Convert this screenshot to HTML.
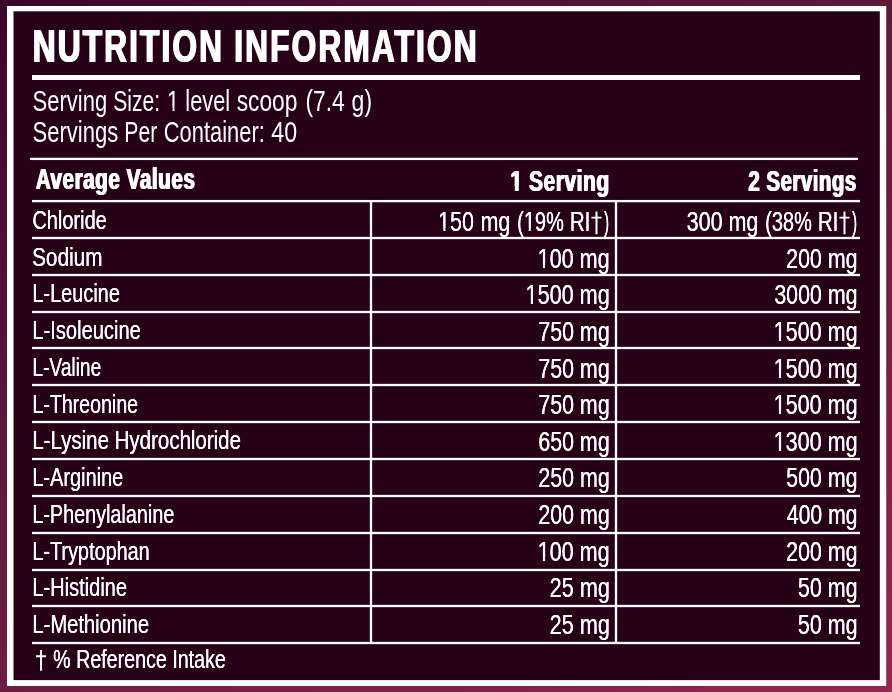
<!DOCTYPE html><html><head><meta charset="utf-8"><title>Nutrition Information</title><style>
html,body{margin:0;padding:0;background:#5a1641;}body{width:892px;height:692px;overflow:hidden;font-family:"Liberation Sans",sans-serif;}svg{display:block;will-change:transform}text{font-family:"Liberation Sans",sans-serif;fill:#ffffff}
</style></head><body>
<svg width="892" height="692" viewBox="0 0 892 692">
<defs><linearGradient id="g" gradientUnits="userSpaceOnUse" x1="0" y1="0" x2="495.2" y2="973.6"><stop offset="0" stop-color="#3b052b"/><stop offset="0.37" stop-color="#5d1a3b"/><stop offset="0.565" stop-color="#6f1c42"/><stop offset="0.935" stop-color="#972650"/><stop offset="1" stop-color="#9e2852"/></linearGradient></defs>
<rect width="892" height="692" fill="url(#g)"/>
<rect x="7" y="6" width="879.2" height="680" fill="#fff"/>
<rect x="13.5" y="11.3" width="866.3" height="668.8" fill="#260118"/>
<rect x="32" y="75" width="828" height="5" fill="#ffffff"/>
<rect x="30" y="157.75" width="828" height="2.3" fill="#ffffff"/>
<rect x="32" y="199.95" width="828" height="2.3" fill="#ffffff"/>
<rect x="32" y="236.85" width="828" height="2.3" fill="#ffffff"/>
<rect x="32" y="273.85" width="828" height="2.3" fill="#ffffff"/>
<rect x="32" y="310.85" width="828" height="2.3" fill="#ffffff"/>
<rect x="32" y="346.85" width="828" height="2.3" fill="#ffffff"/>
<rect x="32" y="383.85" width="828" height="2.3" fill="#ffffff"/>
<rect x="32" y="420.85" width="828" height="2.3" fill="#ffffff"/>
<rect x="32" y="457.85" width="828" height="2.3" fill="#ffffff"/>
<rect x="32" y="494.85" width="828" height="2.3" fill="#ffffff"/>
<rect x="32" y="531.85" width="828" height="2.3" fill="#ffffff"/>
<rect x="32" y="568.85" width="828" height="2.3" fill="#ffffff"/>
<rect x="32" y="604.85" width="828" height="2.3" fill="#ffffff"/>
<rect x="32" y="641.85" width="828" height="2.3" fill="#ffffff"/>
<rect x="369.85" y="201.10" width="2.3" height="441.90" fill="#ffffff"/>
<rect x="614.85" y="201.10" width="2.3" height="441.90" fill="#ffffff"/>
<path fill="#fff" d="M40.05 650.10h2.0V670.70h-2.0zM36.00 655.20h10.1v2.0h-10.1z"/>
<path fill="#fff" d="M595.50 211.60h2.0V234.30h-2.0zM591.45 216.65h10.1v1.9h-10.1z"/>
<path fill="#fff" d="M843.50 211.60h2.0V234.30h-2.0zM839.45 216.65h10.1v1.9h-10.1z"/>
<g transform="translate(32.73,61.80) scale(0.6922,1)" font-weight="bold" font-size="45.8" letter-spacing="3.034">
<text x="-1.011" xml:space="preserve">NUTRITION</text>
<text xml:space="preserve">NUTRITION</text>
<text x="1.011" xml:space="preserve">NUTRITION</text>
</g>
<g transform="translate(234.23,61.80) scale(0.6928,1)" font-weight="bold" font-size="45.8" letter-spacing="3.031">
<text x="-1.010" xml:space="preserve">INFORMATION</text>
<text xml:space="preserve">INFORMATION</text>
<text x="1.010" xml:space="preserve">INFORMATION</text>
</g>
<g transform="translate(32.46,111.10) scale(0.7545,1)" font-weight="normal" font-size="29.2">
<text xml:space="preserve">Serving</text>
</g>
<g transform="translate(113.26,111.10) scale(0.7221,1)" font-weight="normal" font-size="29.2">
<text xml:space="preserve">Size:</text>
</g>
<g transform="translate(167.10,111.10) scale(0.7476,1)" font-weight="normal" font-size="29.2">
<text xml:space="preserve">1 level</text>
<rect x="0.485" y="-3.181" width="6.857" height="4.281" fill="#260118"/>
<rect x="9.923" y="-3.181" width="6.629" height="4.281" fill="#260118"/>
</g>
<g transform="translate(236.65,111.10) scale(0.7806,1)" font-weight="normal" font-size="29.2">
<text xml:space="preserve">scoop</text>
</g>
<g transform="translate(305.44,111.10) scale(0.7826,1)" font-weight="normal" font-size="29.2">
<text xml:space="preserve">(7.4</text>
</g>
<g transform="translate(351.61,111.10) scale(0.7890,1)" font-weight="normal" font-size="29.2">
<text xml:space="preserve">g)</text>
</g>
<g transform="translate(32.46,142.10) scale(0.7557,1)" font-weight="normal" font-size="29.2">
<text xml:space="preserve">Servings</text>
</g>
<g transform="translate(124.27,142.10) scale(0.7261,1)" font-weight="normal" font-size="29.2">
<text xml:space="preserve">Per</text>
</g>
<g transform="translate(163.80,142.10) scale(0.7497,1)" font-weight="normal" font-size="29.2">
<text xml:space="preserve">Container:</text>
</g>
<g transform="translate(271.30,142.10) scale(0.7942,1)" font-weight="normal" font-size="29.2">
<text xml:space="preserve">40</text>
</g>
<g transform="translate(35.73,189.20) scale(0.7113,1)" font-weight="bold" font-size="29.2" letter-spacing="0.703">
<text x="-0.843" xml:space="preserve">Average Values</text>
<text xml:space="preserve">Average Values</text>
<text x="0.843" xml:space="preserve">Average Values</text>
</g>
<g transform="translate(510.43,190.60) scale(0.7188,1)" font-weight="bold" font-size="29.3" letter-spacing="0.696">
<text x="-0.835" xml:space="preserve">1 Serving</text>
<text xml:space="preserve">1 Serving</text>
<text x="0.835" xml:space="preserve">1 Serving</text>
<rect x="-0.798" y="-3.990" width="6.802" height="5.090" fill="#260118"/>
<rect x="11.693" y="-3.990" width="6.430" height="5.090" fill="#260118"/>
</g>
<g transform="translate(748.42,190.60) scale(0.6973,1)" font-weight="bold" font-size="29.3" letter-spacing="0.717">
<text x="-0.860" xml:space="preserve">2 Servings</text>
<text xml:space="preserve">2 Servings</text>
<text x="0.860" xml:space="preserve">2 Servings</text>
</g>
<g transform="translate(53.11,668.10) scale(0.7717,1)" font-weight="normal" font-size="25.5">
<text x="-0.156" xml:space="preserve">% Reference Intake</text>
<text x="0.156" xml:space="preserve">% Reference Intake</text>
</g>
<g transform="translate(32.30,228.85) scale(0.7528,1)" font-weight="normal" font-size="26.6">
<text x="-0.159" xml:space="preserve">Chloride</text>
<text x="0.159" xml:space="preserve">Chloride</text>
</g>
<g transform="translate(437.99,231.00) scale(0.7854,1)" font-weight="normal" font-size="27.5">
<text x="-0.153" xml:space="preserve">150</text>
<text x="0.153" xml:space="preserve">150</text>
<rect x="0.287" y="-3.054" width="6.476" height="4.154" fill="#260118"/>
<rect x="9.498" y="-3.054" width="6.261" height="4.154" fill="#260118"/>
</g>
<g transform="translate(480.64,231.00) scale(0.7762,1)" font-weight="normal" font-size="27.5">
<text x="-0.155" xml:space="preserve">mg</text>
<text x="0.155" xml:space="preserve">mg</text>
</g>
<g transform="translate(517.11,231.00) scale(0.7285,1)" font-weight="normal" font-size="27.5">
<text x="-0.165" xml:space="preserve">(19%</text>
<text x="0.165" xml:space="preserve">(19%</text>
<rect x="9.302" y="-3.054" width="6.605" height="4.154" fill="#260118"/>
<rect x="18.667" y="-3.054" width="6.390" height="4.154" fill="#260118"/>
</g>
<g transform="translate(569.83,231.00) scale(0.7494,1)" font-weight="normal" font-size="27.5">
<text x="-0.160" xml:space="preserve">RI</text>
<text x="0.160" xml:space="preserve">RI</text>
</g>
<g transform="translate(604.05,231.00) scale(0.5450,1)" font-weight="normal" font-size="27.5">
<text x="-0.220" xml:space="preserve">)</text>
<text x="0.220" xml:space="preserve">)</text>
</g>
<g transform="translate(686.67,231.00) scale(0.7826,1)" font-weight="normal" font-size="27.5">
<text x="-0.153" xml:space="preserve">300</text>
<text x="0.153" xml:space="preserve">300</text>
</g>
<g transform="translate(728.64,231.00) scale(0.7762,1)" font-weight="normal" font-size="27.5">
<text x="-0.155" xml:space="preserve">mg</text>
<text x="0.155" xml:space="preserve">mg</text>
</g>
<g transform="translate(765.11,231.00) scale(0.7285,1)" font-weight="normal" font-size="27.5">
<text x="-0.165" xml:space="preserve">(38%</text>
<text x="0.165" xml:space="preserve">(38%</text>
</g>
<g transform="translate(817.83,231.00) scale(0.7494,1)" font-weight="normal" font-size="27.5">
<text x="-0.160" xml:space="preserve">RI</text>
<text x="0.160" xml:space="preserve">RI</text>
</g>
<g transform="translate(852.05,231.00) scale(0.5450,1)" font-weight="normal" font-size="27.5">
<text x="-0.220" xml:space="preserve">)</text>
<text x="0.220" xml:space="preserve">)</text>
</g>
<g transform="translate(32.13,265.59) scale(0.7807,1)" font-weight="normal" font-size="26.6">
<text x="-0.154" xml:space="preserve">Sodium</text>
<text x="0.154" xml:space="preserve">Sodium</text>
</g>
<g transform="translate(537.59,267.63) scale(0.7869,1)" font-weight="normal" font-size="27.5">
<text x="-0.152" xml:space="preserve">100 mg</text>
<text x="0.152" xml:space="preserve">100 mg</text>
<rect x="0.290" y="-3.054" width="6.473" height="4.154" fill="#260118"/>
<rect x="9.498" y="-3.054" width="6.258" height="4.154" fill="#260118"/>
</g>
<g transform="translate(786.15,267.63) scale(0.7786,1)" font-weight="normal" font-size="27.5">
<text x="-0.154" xml:space="preserve">200 mg</text>
<text x="0.154" xml:space="preserve">200 mg</text>
</g>
<g transform="translate(32.36,302.33) scale(0.7494,1)" font-weight="normal" font-size="26.6">
<text x="-0.160" xml:space="preserve">L-Leucine</text>
<text x="0.160" xml:space="preserve">L-Leucine</text>
</g>
<g transform="translate(525.49,304.26) scale(0.7883,1)" font-weight="normal" font-size="27.5">
<text x="-0.152" xml:space="preserve">1500 mg</text>
<text x="0.152" xml:space="preserve">1500 mg</text>
<rect x="0.293" y="-3.054" width="6.470" height="4.154" fill="#260118"/>
<rect x="9.498" y="-3.054" width="6.255" height="4.154" fill="#260118"/>
</g>
<g transform="translate(774.27,304.26) scale(0.7789,1)" font-weight="normal" font-size="27.5">
<text x="-0.154" xml:space="preserve">3000 mg</text>
<text x="0.154" xml:space="preserve">3000 mg</text>
</g>
<g transform="translate(32.34,339.07) scale(0.7572,1)" font-weight="normal" font-size="26.6">
<text x="-0.158" xml:space="preserve">L-Isoleucine</text>
<text x="0.158" xml:space="preserve">L-Isoleucine</text>
</g>
<g transform="translate(538.34,340.89) scale(0.7787,1)" font-weight="normal" font-size="27.5">
<text x="-0.154" xml:space="preserve">750 mg</text>
<text x="0.154" xml:space="preserve">750 mg</text>
</g>
<g transform="translate(773.59,340.89) scale(0.7854,1)" font-weight="normal" font-size="27.5">
<text x="-0.153" xml:space="preserve">1500 mg</text>
<text x="0.153" xml:space="preserve">1500 mg</text>
<rect x="0.287" y="-3.054" width="6.476" height="4.154" fill="#260118"/>
<rect x="9.498" y="-3.054" width="6.261" height="4.154" fill="#260118"/>
</g>
<g transform="translate(32.43,375.81) scale(0.7191,1)" font-weight="normal" font-size="26.6">
<text x="-0.167" xml:space="preserve">L-Valine</text>
<text x="0.167" xml:space="preserve">L-Valine</text>
</g>
<g transform="translate(538.34,377.52) scale(0.7787,1)" font-weight="normal" font-size="27.5">
<text x="-0.154" xml:space="preserve">750 mg</text>
<text x="0.154" xml:space="preserve">750 mg</text>
</g>
<g transform="translate(773.59,377.52) scale(0.7854,1)" font-weight="normal" font-size="27.5">
<text x="-0.153" xml:space="preserve">1500 mg</text>
<text x="0.153" xml:space="preserve">1500 mg</text>
<rect x="0.287" y="-3.054" width="6.476" height="4.154" fill="#260118"/>
<rect x="9.498" y="-3.054" width="6.261" height="4.154" fill="#260118"/>
</g>
<g transform="translate(32.39,412.55) scale(0.7372,1)" font-weight="normal" font-size="26.6">
<text x="-0.163" xml:space="preserve">L-Threonine</text>
<text x="0.163" xml:space="preserve">L-Threonine</text>
</g>
<g transform="translate(538.34,414.15) scale(0.7787,1)" font-weight="normal" font-size="27.5">
<text x="-0.154" xml:space="preserve">750 mg</text>
<text x="0.154" xml:space="preserve">750 mg</text>
</g>
<g transform="translate(773.59,414.15) scale(0.7854,1)" font-weight="normal" font-size="27.5">
<text x="-0.153" xml:space="preserve">1500 mg</text>
<text x="0.153" xml:space="preserve">1500 mg</text>
<rect x="0.287" y="-3.054" width="6.476" height="4.154" fill="#260118"/>
<rect x="9.498" y="-3.054" width="6.261" height="4.154" fill="#260118"/>
</g>
<g transform="translate(32.31,449.29) scale(0.7702,1)" font-weight="normal" font-size="26.6">
<text x="-0.156" xml:space="preserve">L-Lysine Hydrochloride</text>
<text x="0.156" xml:space="preserve">L-Lysine Hydrochloride</text>
</g>
<g transform="translate(538.34,450.78) scale(0.7787,1)" font-weight="normal" font-size="27.5">
<text x="-0.154" xml:space="preserve">650 mg</text>
<text x="0.154" xml:space="preserve">650 mg</text>
</g>
<g transform="translate(773.59,450.78) scale(0.7854,1)" font-weight="normal" font-size="27.5">
<text x="-0.153" xml:space="preserve">1300 mg</text>
<text x="0.153" xml:space="preserve">1300 mg</text>
<rect x="0.287" y="-3.054" width="6.476" height="4.154" fill="#260118"/>
<rect x="9.498" y="-3.054" width="6.261" height="4.154" fill="#260118"/>
</g>
<g transform="translate(32.36,486.03) scale(0.7492,1)" font-weight="normal" font-size="26.6">
<text x="-0.160" xml:space="preserve">L-Arginine</text>
<text x="0.160" xml:space="preserve">L-Arginine</text>
</g>
<g transform="translate(538.35,487.41) scale(0.7786,1)" font-weight="normal" font-size="27.5">
<text x="-0.154" xml:space="preserve">250 mg</text>
<text x="0.154" xml:space="preserve">250 mg</text>
</g>
<g transform="translate(786.17,487.41) scale(0.7783,1)" font-weight="normal" font-size="27.5">
<text x="-0.154" xml:space="preserve">500 mg</text>
<text x="0.154" xml:space="preserve">500 mg</text>
</g>
<g transform="translate(32.37,522.77) scale(0.7443,1)" font-weight="normal" font-size="26.6">
<text x="-0.161" xml:space="preserve">L-Phenylalanine</text>
<text x="0.161" xml:space="preserve">L-Phenylalanine</text>
</g>
<g transform="translate(538.35,524.04) scale(0.7786,1)" font-weight="normal" font-size="27.5">
<text x="-0.154" xml:space="preserve">200 mg</text>
<text x="0.154" xml:space="preserve">200 mg</text>
</g>
<g transform="translate(786.77,524.04) scale(0.7716,1)" font-weight="normal" font-size="27.5">
<text x="-0.156" xml:space="preserve">400 mg</text>
<text x="0.156" xml:space="preserve">400 mg</text>
</g>
<g transform="translate(32.36,559.51) scale(0.7471,1)" font-weight="normal" font-size="26.6">
<text x="-0.161" xml:space="preserve">L-Tryptophan</text>
<text x="0.161" xml:space="preserve">L-Tryptophan</text>
</g>
<g transform="translate(537.59,560.67) scale(0.7869,1)" font-weight="normal" font-size="27.5">
<text x="-0.152" xml:space="preserve">100 mg</text>
<text x="0.152" xml:space="preserve">100 mg</text>
<rect x="0.290" y="-3.054" width="6.473" height="4.154" fill="#260118"/>
<rect x="9.498" y="-3.054" width="6.258" height="4.154" fill="#260118"/>
</g>
<g transform="translate(786.15,560.67) scale(0.7786,1)" font-weight="normal" font-size="27.5">
<text x="-0.154" xml:space="preserve">200 mg</text>
<text x="0.154" xml:space="preserve">200 mg</text>
</g>
<g transform="translate(32.35,596.25) scale(0.7537,1)" font-weight="normal" font-size="26.6">
<text x="-0.159" xml:space="preserve">L-Histidine</text>
<text x="0.159" xml:space="preserve">L-Histidine</text>
</g>
<g transform="translate(549.73,597.30) scale(0.7863,1)" font-weight="normal" font-size="27.5">
<text x="-0.153" xml:space="preserve">25 mg</text>
<text x="0.153" xml:space="preserve">25 mg</text>
</g>
<g transform="translate(797.87,597.30) scale(0.7819,1)" font-weight="normal" font-size="27.5">
<text x="-0.153" xml:space="preserve">50 mg</text>
<text x="0.153" xml:space="preserve">50 mg</text>
</g>
<g transform="translate(32.34,632.99) scale(0.7599,1)" font-weight="normal" font-size="26.6">
<text x="-0.158" xml:space="preserve">L-Methionine</text>
<text x="0.158" xml:space="preserve">L-Methionine</text>
</g>
<g transform="translate(549.73,633.93) scale(0.7863,1)" font-weight="normal" font-size="27.5">
<text x="-0.153" xml:space="preserve">25 mg</text>
<text x="0.153" xml:space="preserve">25 mg</text>
</g>
<g transform="translate(797.87,633.93) scale(0.7819,1)" font-weight="normal" font-size="27.5">
<text x="-0.153" xml:space="preserve">50 mg</text>
<text x="0.153" xml:space="preserve">50 mg</text>
</g>
</svg></body></html>
